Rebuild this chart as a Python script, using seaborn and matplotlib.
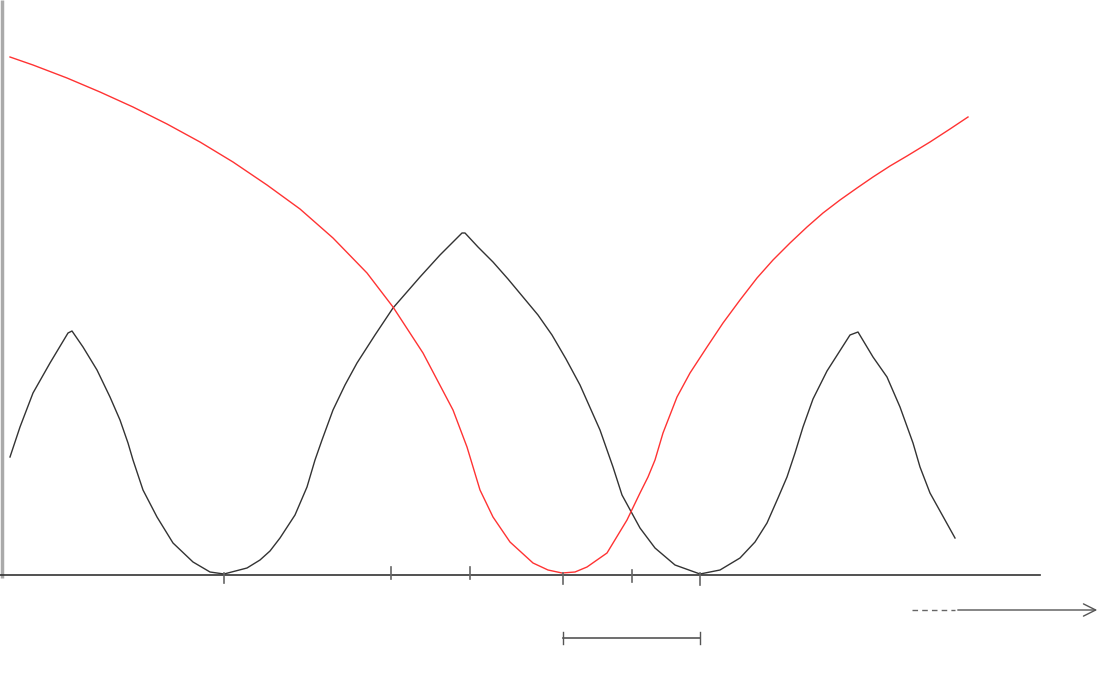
import matplotlib
matplotlib.use("Agg")
import matplotlib.pyplot as plt
import seaborn as sns
import pandas as pd

# Black wave (x, height above the axis baseline)
black_x = [10, 20, 33, 50, 68, 72, 83, 97, 110, 120, 128, 133, 143, 157, 173, 193, 210, 224, 247, 260,
           270, 280, 295, 307, 315, 322, 333, 345, 357, 375, 393, 420, 440, 462, 465,
           478, 493, 508, 523, 538, 552, 566, 580, 600, 613, 622, 640, 655, 675, 700,
           720, 740, 755, 767, 778, 787, 795, 803, 813, 827, 850, 858,
           873, 887, 900, 913, 920, 930, 945, 955]
black_y = [118, 148, 182, 212, 242, 244, 228, 205, 178, 155, 132, 115, 85, 58, 32, 13, 3, 1, 7, 15,
           24, 37, 60, 88, 115, 135, 165, 190, 212, 240, 267, 298, 320, 342, 342,
           328, 313, 296, 278, 260, 240, 216, 190, 145, 108, 80, 47, 27, 10, 1,
           5, 17, 33, 52, 77, 98, 122, 148, 176, 204, 240, 243,
           218, 198, 168, 132, 108, 82, 55, 37]

# Red curve
red_x = [10, 33, 67, 100, 133, 167, 200, 233, 267, 300, 333, 367, 393, 423, 453, 467, 480, 493, 510, 533, 548, 562,
         575, 587, 607, 627, 640, 648, 655, 663, 677, 690, 707, 723, 740, 757, 773, 790, 807, 823, 840, 857,
         873, 890, 907, 930, 950, 968]
red_y = [518, 510, 497, 483, 468, 451, 433, 413, 390, 366, 337, 302, 268, 222, 165, 128, 85, 58, 33, 12, 5, 2,
         3, 8, 22, 55, 82, 98, 115, 142, 178, 202, 228, 252, 275, 297, 315, 332, 348, 362, 375, 387,
         398, 409, 419, 433, 446, 458]

# Marks along the axis
tick_x = [224, 391, 470, 563, 632, 700]
tick_lo = [-8, -4, -4, -9, -7, -10]
tick_hi = [2, 8, 8, 2, 5, 2]

interval = [563, 700]

fig = plt.figure(figsize=(11.02, 6.82), dpi=100)
ax = fig.add_axes([0, 0, 1, 1])
ax.set_xlim(0, 1102)
ax.set_ylim(-107, 575)
ax.axis("off")

dfb = pd.DataFrame({"x": black_x, "y": black_y})
dfr = pd.DataFrame({"x": red_x, "y": red_y})
sns.lineplot(data=dfb, x="x", y="y", sort=False, color="#333333", lw=1.0, ax=ax)
sns.lineplot(data=dfr, x="x", y="y", sort=False, color="#ff3333", lw=1.0, ax=ax)

# axes lines
ax.plot([2, 2], [-3, 575], color="#aaaaaa", lw=2.5, solid_capstyle="butt")
ax.plot([0, 1040], [0, 0], color="#333333", lw=1.2)

for tx, lo, hi in zip(tick_x, tick_lo, tick_hi):
    ax.plot([tx, tx], [lo, hi], color="#666666", lw=1.2)

# interval bar
y_int = 575 - 638
ax.plot(interval, [y_int, y_int], color="#555555", lw=1.2)
for xi in interval:
    ax.plot([xi, xi], [y_int - 6, y_int + 6], color="#555555", lw=1.0)

# arrow
y_ar = 575 - 610
ax.plot([912, 955], [y_ar, y_ar], color="#666666", lw=1.0, ls=(0, (4, 3)))
ax.annotate("", xy=(1100, y_ar), xytext=(955, y_ar),
            arrowprops=dict(arrowstyle="->", color="#555555", lw=1.0, mutation_scale=22))

fig.savefig("out.png", dpi=100, facecolor="white")
